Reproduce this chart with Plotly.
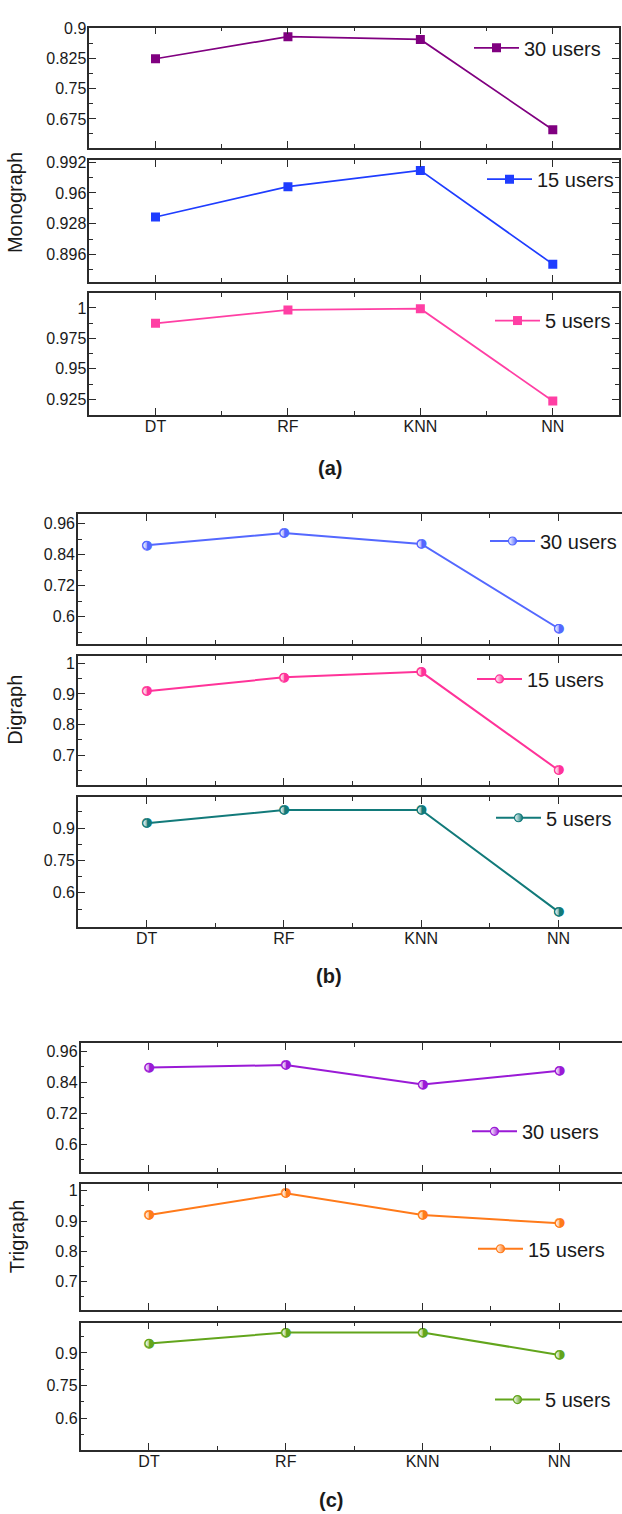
import plotly.graph_objects as go

W, H = 622, 1514

models = ["DT", "RF", "KNN", "NN"]
xpos = [0, 1, 2, 3]
user_labels = ["30 users", "15 users", "5 users"]

# Monograph accuracy
mono_30 = [0.825, 0.880, 0.873, 0.648]
mono_15 = [0.935, 0.9666, 0.9835, 0.886]
mono_5 = [0.9874, 0.9984, 0.9994, 0.9236]

# Digraph accuracy
di_30 = [0.876, 0.923, 0.881, 0.555]
di_15 = [0.909, 0.954, 0.972, 0.651]
di_5 = [0.923, 0.984, 0.984, 0.512]

# Trigraph accuracy
tri_30 = [0.898, 0.907, 0.832, 0.885]
tri_15 = [0.920, 0.992, 0.920, 0.893]
tri_5 = [0.944, 0.994, 0.994, 0.891]

# y tick values per subplot
ticks_a1 = [0.675, 0.75, 0.825, 0.9]
ticks_a2 = [0.896, 0.928, 0.96, 0.992]
ticks_a3 = [0.925, 0.95, 0.975, 1]
ticks_b1 = [0.6, 0.72, 0.84, 0.96]
ticks_b2 = [0.7, 0.8, 0.9, 1]
ticks_b3 = [0.6, 0.75, 0.9]

FONT = "Liberation Sans, Arial, sans-serif"
TXT = "#1a1a1a"
FRAME = "#2b2b2b"
HALF_CIRCLE = "\u25d1"  # circle with right half filled


def px_y(p):
    return 1 - p / H


def px_x(p):
    return p / W


def fmt(v):
    return ("%.3f" % v).rstrip("0").rstrip(".")


def minor_vals(ticks, step, lo, hi):
    out = []
    v = ticks[0] - step * 0.5
    while v - step > lo:
        v -= step
    while v < hi:
        if v > lo:
            out.append(round(v, 5))
        v += step
    return [m for m in out if all(abs(m - t) > 1e-6 for t in ticks)]


# one entry per subplot
panels = [
    dict(v=mono_30, c="#800080", n=0, sym="square", xd=(89.3, 619), yd=(20.7, 141.7), yr=(0.6025, 0.9025),
         t=ticks_a1, step=0.075, leg=(469, 41), bottom=False, full=True, xr=(-0.5, 3.5)),
    dict(v=mono_15, c="#1f3dff", n=1, sym="square", xd=(89.3, 619), yd=(154, 276), yr=(0.8677, 0.994),
         t=ticks_a2, step=0.032, leg=(482, 173), bottom=False, full=True, xr=(-0.5, 3.5)),
    dict(v=mono_5, c="#ff3fa4", n=2, sym="square", xd=(89.3, 619), yd=(287.3, 410), yr=(0.912, 1.0123),
         t=ticks_a3, step=0.025, leg=(490, 315), bottom=True, full=True, xr=(-0.5, 3.5)),
    dict(v=di_30, c="#5468ff", n=0, sym="circle", xd=(78, 622), yd=(509.3, 640), yr=(0.495, 0.997),
         t=ticks_b1, step=0.12, leg=(485, 536.5), bottom=False, full=False, xr=(-0.5, 3.462)),
    dict(v=di_15, c="#ff3399", n=1, sym="circle", xd=(78, 622), yd=(652.3, 781.7), yr=(0.6026, 1.0227),
         t=ticks_b2, step=0.1, leg=(472, 675), bottom=False, full=False, xr=(-0.5, 3.462)),
    dict(v=di_5, c="#127a7a", n=2, sym="circle", xd=(78, 622), yd=(794, 924), yr=(0.443, 1.043),
         t=ticks_b3, step=0.15, leg=(491, 814.5), bottom=True, full=False, xr=(-0.5, 3.462)),
    dict(v=tri_30, c="#9a1ad6", n=0, sym="circle", xd=(80.6, 622), yd=(1040.7, 1170), yr=(0.495, 0.993),
         t=ticks_b1, step=0.12, leg=(467, 1129.5), bottom=False, full=False, xr=(-0.5, 3.458)),
    dict(v=tri_15, c="#ff7a1a", n=1, sym="circle", xd=(80.6, 622), yd=(1182.3, 1309.3), yr=(0.606, 1.023),
         t=ticks_b2, step=0.1, leg=(473, 1247.5), bottom=False, full=False, xr=(-0.5, 3.458)),
    dict(v=tri_5, c="#62a51c", n=2, sym="circle", xd=(80.6, 622), yd=(1321.7, 1450), yr=(0.452, 1.040),
         t=ticks_b3, step=0.15, leg=(490, 1399), bottom=True, full=False, xr=(-0.5, 3.458)),
]

layout = dict(
    width=W, height=H,
    margin=dict(l=0, r=0, t=0, b=0),
    paper_bgcolor="white", plot_bgcolor="white",
    font=dict(family=FONT, color=TXT),
    showlegend=True,
)

fig = go.Figure()
for i, p in enumerate(panels):
    k = "" if i == 0 else str(i + 1)
    if p["sym"] == "square":
        marker = dict(symbol="square", size=9, color=p["c"], line=dict(width=0))
    else:
        marker = dict(symbol="circle", size=8, color="white",
                      line=dict(color=p["c"], width=1.2),
                      gradient=dict(type="horizontal", color=p["c"]))
    fig.add_trace(go.Scatter(
        x=xpos, y=p["v"], mode="lines+markers", name=user_labels[p["n"]],
        line=dict(color=p["c"], width=2 if p["sym"] == "circle" else 1.7), marker=marker,
        xaxis="x" + k, yaxis="y" + k, legend="legend" + k, showlegend=True,
        hoverinfo="skip",
    ))
    if p["sym"] == "circle":
        # half-filled circle glyphs on top of the markers
        fig.add_trace(go.Scatter(
            x=xpos, y=p["v"], mode="text", text=[HALF_CIRCLE] * len(xpos),
            textposition="middle center",
            textfont=dict(color=p["c"], size=13, family="DejaVu Sans"),
            xaxis="x" + k, yaxis="y" + k, showlegend=False, hoverinfo="skip",
        ))

    lo, hi = p["yr"]
    layout["xaxis" + k] = dict(
        domain=[px_x(p["xd"][0]), px_x(p["xd"][1])],
        anchor="y" + k, range=list(p["xr"]),
        tickmode="array", tickvals=xpos,
        ticktext=models if p["bottom"] else ["", "", "", ""],
        showticklabels=p["bottom"],
        ticks="inside", ticklen=7, tickwidth=1.4, tickcolor=FRAME,
        ticklabelstandoff=-4,
        minor=dict(tickmode="array", tickvals=[0.5, 1.5, 2.5], ticks="inside",
                   ticklen=4, tickwidth=1.4, tickcolor=FRAME),
        showline=True, linecolor=FRAME, linewidth=1.6, mirror="allticks",
        showgrid=False, zeroline=False, fixedrange=True,
        tickfont=dict(size=16, color=TXT, family=FONT),
    )
    layout["yaxis" + k] = dict(
        domain=[px_y(p["yd"][1]), px_y(p["yd"][0])],
        anchor="x" + k, range=[lo, hi],
        tickmode="array", tickvals=p["t"], ticktext=[fmt(t) for t in p["t"]],
        ticks="inside", ticklen=7, tickwidth=1.4, tickcolor=FRAME,
        ticklabelstandoff=-2,
        minor=dict(tickmode="array", tickvals=minor_vals(p["t"], p["step"], lo, hi),
                   ticks="inside", ticklen=4, tickwidth=1.4, tickcolor=FRAME),
        showline=True, linecolor=FRAME, linewidth=1.6,
        mirror="allticks" if p["full"] else False,
        showgrid=False, zeroline=False, fixedrange=True,
        tickfont=dict(size=16, color=TXT, family=FONT),
    )
    layout["legend" + k] = dict(
        x=px_x(p["leg"][0]), y=px_y(p["leg"][1]), xanchor="left", yanchor="middle",
        xref="paper", yref="paper",
        bgcolor="rgba(0,0,0,0)", borderwidth=0,
        font=dict(size=20, color=TXT, family=FONT),
        itemwidth=45, tracegroupgap=0,
    )

annotations = [
    dict(text="Monograph", x=px_x(15), y=px_y(197), textangle=-90),
    dict(text="Digraph", x=px_x(15), y=px_y(706), textangle=-90),
    dict(text="Trigraph", x=px_x(17), y=px_y(1235), textangle=-90),
    dict(text="<b>(a)</b>", x=px_x(330), y=px_y(463)),
    dict(text="<b>(b)</b>", x=px_x(329), y=px_y(974)),
    dict(text="<b>(c)</b>", x=px_x(331), y=px_y(1500)),
]
layout["annotations"] = [
    dict(a, xref="paper", yref="paper", xanchor="center", yanchor="middle",
         showarrow=False, font=dict(size=20, color=TXT, family=FONT))
    for a in annotations
]

fig.update_layout(**layout)
fig.write_html("out.html", config={"displayModeBar": False})
